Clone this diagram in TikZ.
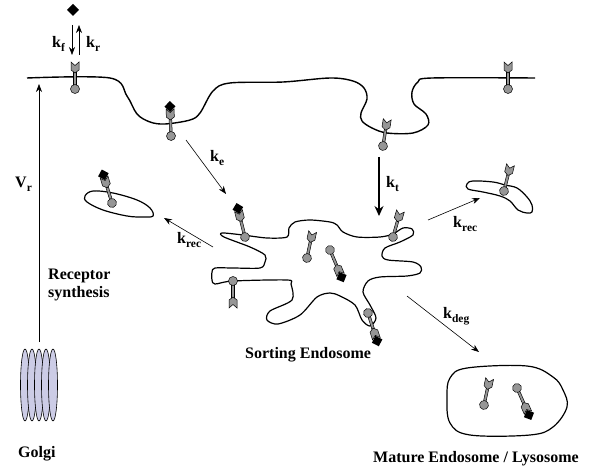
\documentclass[tikz,border=0pt]{standalone}
\usepackage{fontspec}
\setmainfont{Liberation Serif}
\usetikzlibrary{arrows.meta}

\definecolor{rgray}{RGB}{150,150,150}
\definecolor{golgi}{RGB}{204,204,230}

% lowered subscript for the rate constants
\newcommand{\sbs}[1]{\raisebox{-4pt}{\fontsize{11.5}{12}\selectfont #1}}
% stick, head and foot of one receptor, pointing up from its foot
\newcommand{\rcpshape}{%
  \draw[fill=rgray, line width=0.5pt] (-1.3,-3) rectangle (1.3,-17);
  \draw[fill=rgray, line width=0.5pt] (0,-16) -- (4,-19) -- (4,-27) -- (0,-23.5) -- (-4,-27) -- (-4,-19) -- cycle;
  \draw[fill=rgray, line width=0.5pt] (0,0) circle (4.5pt);}

\tikzset{
  lbl/.style={font=\fontsize{16}{18}\selectfont\bfseries, inner sep=0pt, anchor=base west},
  memb/.style={line width=1.4pt, line join=round},
  ves/.style={line width=1.2pt, line join=round},
  flux/.style={-{Stealth[length=8pt,width=6pt]}, line width=0.6pt},
  ligand/.pic={\fill (0,-6) -- (6,0) -- (0,6) -- (-6,0) -- cycle;},
  receptor/.pic={\rcpshape},
  boundrec/.pic={
    \rcpshape
    \fill (0,-35) -- (5.5,-29.5) -- (0,-24) -- (-5.5,-29.5) -- cycle;
  },
}

\begin{document}
\begin{tikzpicture}[x=1pt, y=-1pt]
\useasboundingbox (0,0) rectangle (600,468);

% plasma membrane
\draw[memb] plot[smooth, tension=0.55] coordinates {(27,78) (110,78) (127,96) (137,114) (150,122)
  (165,124) (190,120) (200,113) (213,91) (230,83) (283,82) (330,78) (353,81) (364,88) (367,99)
  (361,113) (362,121) (372,128) (387,133) (413,133) (428,125) (426,114) (414,104) (412,92)
  (418,82) (432,78) (535,78)};

% vesicles
\draw[ves] plot[smooth cycle, tension=0.6] coordinates {(85,196) (93,191) (113,193) (137,200)
  (150,208) (153,216) (143,217) (127,216) (103,210) (87,202)};
\draw[ves] plot[smooth cycle, tension=0.6] coordinates {(467,184) (473,181) (493,182) (505,185)
  (517,188) (527,197) (532,205) (532,212) (527,213) (518,210) (510,201) (500,196) (483,192) (468,189)};
\draw[ves] plot[smooth cycle, tension=0.6] coordinates {(447,397) (450,378) (467,368) (527,366)
  (553,377) (563,390) (567,407) (553,427) (530,435) (470,435) (450,423)};

% sorting endosome
\draw[ves] plot[smooth cycle, tension=0.5] coordinates {(222,233) (243,235) (267,238) (287,237)
  (289,228) (295,222) (310,220) (330,222) (337,225) (343,232) (357,237) (380,237) (393,234)
  (403,228) (412,229) (413,235) (400,242) (385,248) (382,256) (388,260) (413,262) (421,267)
  (420,273) (407,276) (380,277) (368,281) (363,292) (370,305) (376,318) (370,326) (362,320)
  (355,305) (340,296) (330,293) (317,297) (300,315) (278,324) (267,320) (270,311) (292,300)
  (291,284) (287,280) (233,281) (215,284) (212,280) (212,272) (215,268) (233,268) (260,268)
  (265,262) (265,255) (250,247) (224,237)};

% golgi stack
\foreach \x in {25,32,39,46,53}
  \draw[fill=golgi, line width=0.6pt] (\x,385) ellipse (4.5pt and 36pt);

% receptors
\pic at (75,89) {receptor};
\pic[rotate=2] at (171,136) {boundrec};
\pic[rotate=-9] at (383,146) {receptor};
\pic at (508,89) {receptor};
\pic[rotate=17] at (112,203) {boundrec};
\pic[rotate=14] at (245,237) {boundrec};
\pic[rotate=180] at (233,281) {receptor};
\pic[rotate=-12] at (307,258) {receptor};
\pic[rotate=203] at (330,250) {boundrec};
\pic[rotate=-16] at (393,237) {receptor};
\pic[rotate=-162] at (368,313) {boundrec};
\pic[rotate=-14] at (504,191) {receptor};
\pic[rotate=-12] at (484,405) {receptor};
\pic[rotate=-156] at (517,388) {boundrec};
\pic at (73,10) {ligand};

% end points of the fluxes
\coordinate (kf-a) at (72,25);  \coordinate (kf-b) at (72,55);
\coordinate (kr-a) at (79,55);  \coordinate (kr-b) at (79,25);
\coordinate (vr-a) at (39,342); \coordinate (vr-b) at (39,84);
\coordinate (ke-a) at (186,140); \coordinate (ke-b) at (226,194);
\coordinate (kt-a) at (379,157); \coordinate (kt-b) at (379,216);
\coordinate (kl-a) at (213,247); \coordinate (kl-b) at (164,218);
\coordinate (kr2-a) at (428,220); \coordinate (kr2-b) at (480,198);
\coordinate (kd-a) at (407,296); \coordinate (kd-b) at (479,352);

\draw[flux] (kf-a) -- (kf-b);
\draw[flux] (kr-a) -- (kr-b);
\draw[flux] (vr-a) -- (vr-b);
\draw[flux] (ke-a) -- (ke-b);
\draw[flux, line width=1.2pt, -{Stealth[length=10pt,width=9pt]}] (kt-a) -- (kt-b);
\draw[flux] (kl-a) -- (kl-b);
\draw[flux] (kr2-a) -- (kr2-b);
\draw[flux] (kd-a) -- (kd-b);

% labels
\node[lbl] (kf) at (52,48) {k\sbs{f}};
\node[lbl] (kr) at (86,48) {k\sbs{r}};
\node[lbl] (vr) at (15,187) {V\sbs{r}};
\node[lbl] (ke) at (210,162) {k\sbs{e}};
\node[lbl] (kt) at (386,188) {k\sbs{t}};
\node[lbl] (krec1) at (177,243) {k\sbs{rec}};
\node[lbl] (krec2) at (453,227) {k\sbs{rec}};
\node[lbl] (kdeg) at (443,318) {k\sbs{deg}};
\node[lbl] (rsyn1) at (48,279) {Receptor};
\node[lbl] (rsyn2) at (48,297) {synthesis};
\node[lbl] (sort) at (245,358) {Sorting Endosome};
\node[lbl] (golgi) at (18,457) {Golgi};
\node[lbl] (lyso) at (373,462) {Mature Endosome / Lysosome};
\end{tikzpicture}
\end{document}
